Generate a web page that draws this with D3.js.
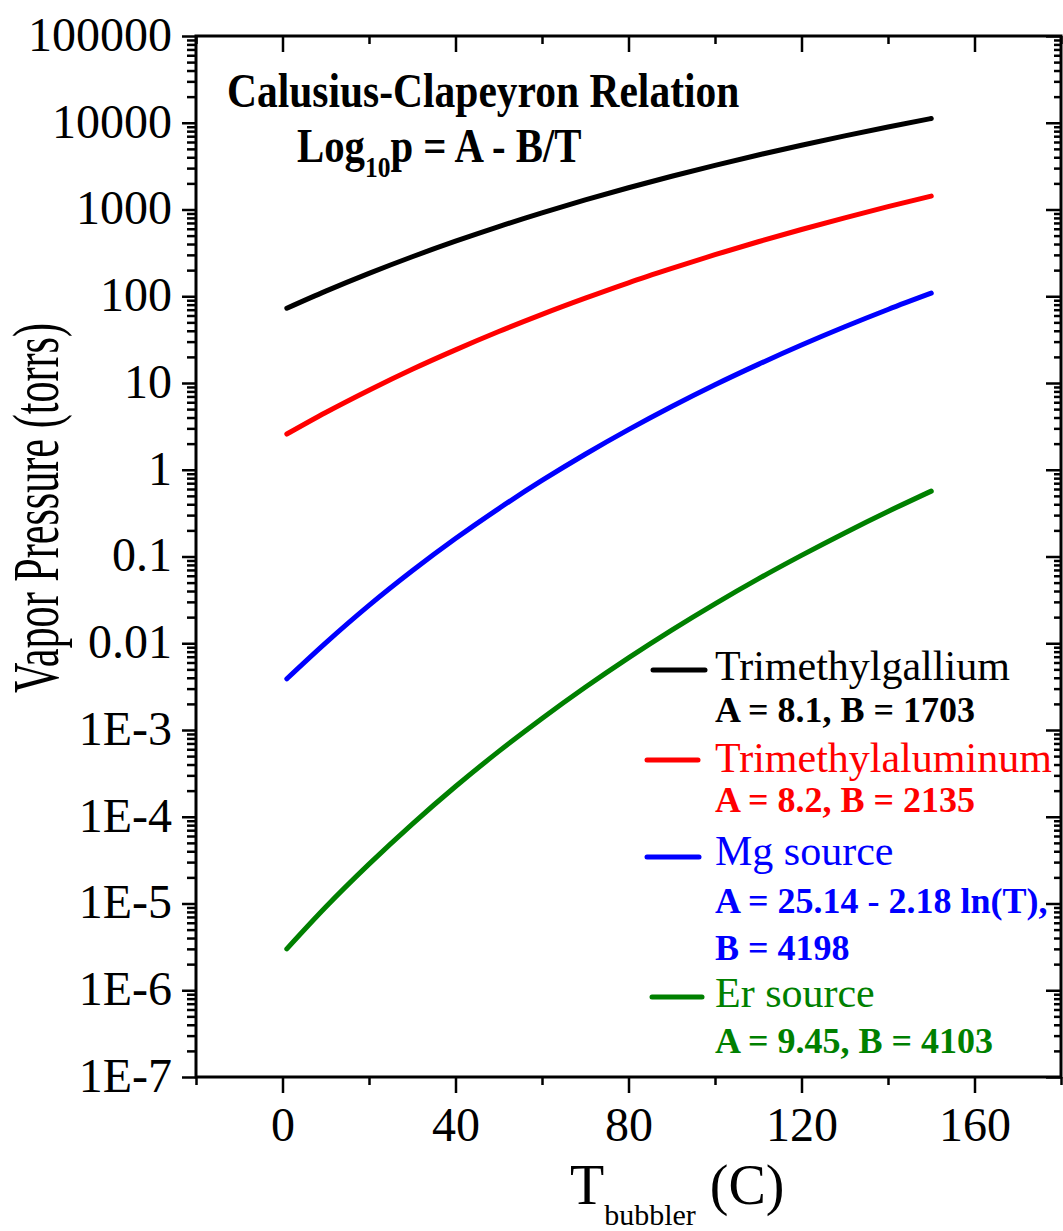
<!DOCTYPE html>
<html>
<head>
<meta charset="utf-8">
<script src="https://cdn.jsdelivr.net/npm/d3@7"></script>
<style>
  html, body { margin: 0; padding: 0; background: #fff; }
  svg { display: block; }
  text { font-family: "Liberation Serif", "Times New Roman", serif; }
</style>
</head>
<body>
<script>
// ---------------- data ----------------
const temps = [1, 10, 20, 30, 40, 50, 60, 70, 80, 90, 100, 110, 120, 130, 140, 150];
const tmgaValues = [72.7, 114.5, 183.6, 285.4, 431.2, 635.8, 914.6, 1289, 1781, 2419, 3231, 4251, 5512, 7060, 8938, 11190];
const tmalValues = [2.58, 4.57, 8.26, 14.4, 24.1, 39.2, 61.9, 95.1, 143, 209, 301, 425, 588, 802, 1078, 1427];
const mgValues = [0.00389, 0.0101, 0.0273, 0.0684, 0.161, 0.357, 0.752, 1.51, 2.90, 5.36, 9.55, 16.4, 27.4, 44.5, 70.4, 108.5];
const erValues = [3.0e-6, 9.1e-6, 2.84e-5, 8.23e-5, 2.23e-4, 5.67e-4, 1.36e-3, 3.11e-3, 6.79e-3, 0.0142, 0.0285, 0.0552, 0.103, 0.187, 0.330, 0.567];

const seriesNames = ["Trimethylgallium", "Trimethylaluminum", "Mg source", "Er source"];
const seriesColors = ["#000000", "#ff0000", "#0000ff", "#008000"];
const seriesParams = [
  ["A = 8.1, B = 1703"],
  ["A = 8.2, B = 2135"],
  ["A = 25.14 - 2.18 ln(T),", "B = 4198"],
  ["A = 9.45, B = 4103"]
];
const seriesValues = [tmgaValues, tmalValues, mgValues, erValues];

const yTickValues = [1e-7, 1e-6, 1e-5, 1e-4, 1e-3, 1e-2, 1e-1, 1, 10, 100, 1000, 10000, 100000];
const yTickLabels = ["1E-7", "1E-6", "1E-5", "1E-4", "1E-3", "0.01", "0.1", "1", "10", "100", "1000", "10000", "100000"];
const xTickValues = [0, 40, 80, 120, 160];
const xTickLabels = ["0", "40", "80", "120", "160"];
const xMinorValues = [-20, 20, 60, 100, 140, 180];

// ---------------- layout ----------------
const W = 1063, H = 1231;
const mLeft = 196, mRight = 1061, mTop = 36, mBottom = 1077;

const svg = d3.select("body").append("svg")
  .attr("width", W).attr("height", H)
  .style("background", "#fff");

const x = d3.scaleLinear().domain([-20, 180]).range([mLeft, mRight]);
const y = d3.scaleLog().domain([1e-7, 1e5]).range([mBottom, mTop]);

const yMinor = [];
for (let e = -7; e < 5; e++) for (let m = 2; m <= 9; m++) yMinor.push(m * Math.pow(10, e));

function styleAxis(g, w) {
  g.select(".domain").remove();
  g.selectAll(".tick line").attr("stroke", "#000").attr("stroke-width", w);
}

// left axis (outward ticks)
svg.append("g").attr("transform", `translate(${mLeft},0)`)
  .call(d3.axisLeft(y).tickValues(yMinor).tickSize(9).tickFormat(""))
  .call(g => styleAxis(g, 2.5));
const gl = svg.append("g").attr("transform", `translate(${mLeft},0)`)
  .call(d3.axisLeft(y).tickValues(yTickValues).tickSize(14).tickPadding(10)
    .tickFormat((d, i) => yTickLabels[i]))
  .call(g => styleAxis(g, 2.5));
gl.selectAll(".tick text")
  .attr("fill", "#000")
  .attr("font-size", 48)
  .attr("font-family", "'Liberation Serif', serif")
  .attr("dy", "0.3em");

// right axis (inward ticks)
svg.append("g").attr("transform", `translate(${mRight},0)`)
  .call(d3.axisRight(y).tickValues(yMinor).tickSize(-7).tickFormat(""))
  .call(g => styleAxis(g, 2.5));
svg.append("g").attr("transform", `translate(${mRight},0)`)
  .call(d3.axisRight(y).tickValues(yTickValues).tickSize(-15).tickFormat(""))
  .call(g => styleAxis(g, 2.5));

// top axis (inward ticks)
svg.append("g").attr("transform", `translate(0,${mTop})`)
  .call(d3.axisTop(x).tickValues(xTickValues).tickSize(-16).tickFormat(""))
  .call(g => styleAxis(g, 2.5));
svg.append("g").attr("transform", `translate(0,${mTop})`)
  .call(d3.axisTop(x).tickValues(xMinorValues).tickSize(-8).tickFormat(""))
  .call(g => styleAxis(g, 2.5));

// bottom axis (outward ticks)
svg.append("g").attr("transform", `translate(0,${mBottom})`)
  .call(d3.axisBottom(x).tickValues(xMinorValues).tickSize(8).tickFormat(""))
  .call(g => styleAxis(g, 2.5));
const gb = svg.append("g").attr("transform", `translate(0,${mBottom})`)
  .call(d3.axisBottom(x).tickValues(xTickValues).tickSize(16).tickPadding(14)
    .tickFormat((d, i) => xTickLabels[i]))
  .call(g => styleAxis(g, 2.5));
gb.selectAll(".tick text")
  .attr("fill", "#000")
  .attr("font-size", 48)
  .attr("font-family", "'Liberation Serif', serif");

// frame
svg.append("rect")
  .attr("x", mLeft).attr("y", mTop)
  .attr("width", mRight - mLeft).attr("height", mBottom - mTop)
  .attr("fill", "none").attr("stroke", "#000").attr("stroke-width", 3);

// curves
const line = d3.line()
  .x((d, i) => x(temps[i]))
  .y(d => y(d))
  .curve(d3.curveMonotoneX);

seriesValues.forEach((vals, k) => {
  svg.append("path")
    .datum(vals)
    .attr("d", line)
    .attr("fill", "none")
    .attr("stroke", seriesColors[k])
    .attr("stroke-width", 5)
    .attr("stroke-linecap", "round")
    .attr("stroke-linejoin", "round");
});

// title block
const titleG = svg.append("g").attr("transform", "translate(227,107) scale(0.865,1)");
titleG.append("text")
  .attr("x", 0).attr("y", 0)
  .attr("font-size", 48).attr("font-weight", "bold")
  .text("Calusius-Clapeyron Relation");
const eq = svg.append("g").attr("transform", "translate(297,162) scale(0.85,1)")
  .append("text").attr("x", 0).attr("y", 0)
  .attr("font-size", 48).attr("font-weight", "bold");
eq.append("tspan").text("Log");
eq.append("tspan").attr("font-size", 30).attr("dy", 15).text("10");
eq.append("tspan").attr("dy", -15).text("p = A - B/T");

// legend
const legendLayout = [
  { lx1: 653, lx2: 705, ly: 670, ty: 680, py: [722] },
  { lx1: 647, lx2: 698, ly: 760, ty: 772, py: [812] },
  { lx1: 647, lx2: 699, ly: 857, ty: 865, py: [913, 960] },
  { lx1: 652, lx2: 702, ly: 997, ty: 1007, py: [1053] }
];
const legendTextX = 715;
seriesNames.forEach((name, k) => {
  const L = legendLayout[k];
  svg.append("line")
    .attr("x1", L.lx1).attr("x2", L.lx2)
    .attr("y1", L.ly).attr("y2", L.ly)
    .attr("stroke", seriesColors[k]).attr("stroke-width", 5)
    .attr("stroke-linecap", "round");
  svg.append("text")
    .attr("x", legendTextX).attr("y", L.ty)
    .attr("font-size", 42).attr("fill", seriesColors[k])
    .text(name);
  seriesParams[k].forEach((p, j) => {
    svg.append("text")
      .attr("x", legendTextX).attr("y", L.py[j])
      .attr("font-size", 36).attr("font-weight", "bold")
      .attr("fill", seriesColors[k])
      .text(p);
  });
});

// axis titles
svg.append("text")
  .attr("transform", "translate(58,508) rotate(-90)")
  .attr("text-anchor", "middle")
  .attr("font-size", 66)
  .attr("textLength", 370).attr("lengthAdjust", "spacingAndGlyphs")
  .text("Vapor Pressure (torrs)");

const xl = svg.append("text").attr("x", 570).attr("y", 1204).attr("font-size", 56);
xl.append("tspan").text("T");
xl.append("tspan").attr("font-size", 30).attr("dy", 21).text("bubbler");
xl.append("tspan").attr("dy", -21).text(" (C)");
</script>
</body>
</html>
